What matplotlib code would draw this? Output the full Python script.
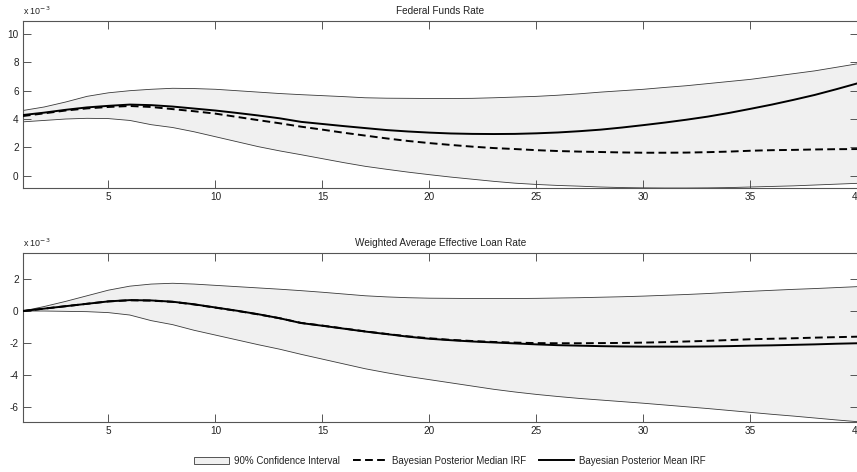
import numpy as np
import matplotlib
matplotlib.use("Agg")
import matplotlib.pyplot as plt
from matplotlib.patches import Patch
from matplotlib.lines import Line2D

# horizon 1..40, values in units of 1e-3
h = np.arange(1, 41)

ffr_upper = [4.6, 4.85, 5.2, 5.6, 5.85, 6.0, 6.1, 6.17, 6.15, 6.1,
             6.0, 5.9, 5.8, 5.72, 5.65, 5.58, 5.5, 5.47, 5.46, 5.45,
             5.45, 5.46, 5.5, 5.55, 5.6, 5.68, 5.78, 5.9, 6.0, 6.1,
             6.23, 6.35, 6.5, 6.65, 6.8, 7.0, 7.2, 7.4, 7.65, 7.9]
ffr_lower = [3.8, 3.9, 4.0, 4.05, 4.03, 3.9, 3.6, 3.4, 3.1, 2.75,
             2.4, 2.05, 1.75, 1.48, 1.2, 0.92, 0.66, 0.45, 0.25, 0.07,
             -0.1, -0.25, -0.4, -0.53, -0.62, -0.69, -0.74, -0.8, -0.84, -0.86,
             -0.87, -0.87, -0.86, -0.84, -0.8, -0.76, -0.72, -0.66, -0.6, -0.54]
ffr_median = [4.21, 4.4, 4.6, 4.75, 4.85, 4.92, 4.85, 4.7, 4.55, 4.38,
              4.15, 3.92, 3.7, 3.46, 3.25, 3.03, 2.83, 2.63, 2.45, 2.3,
              2.17, 2.05, 1.95, 1.88, 1.8, 1.74, 1.7, 1.67, 1.64, 1.62,
              1.62, 1.63, 1.66, 1.7, 1.76, 1.8, 1.82, 1.85, 1.87, 1.88]
ffr_mean = [4.28, 4.45, 4.65, 4.82, 4.93, 5.02, 4.98, 4.88, 4.74, 4.6,
            4.43, 4.25, 4.05, 3.8, 3.65, 3.5, 3.36, 3.22, 3.12, 3.04,
            2.98, 2.95, 2.94, 2.95, 2.99, 3.05, 3.14, 3.25, 3.4, 3.57,
            3.75, 3.95, 4.17, 4.43, 4.72, 5.02, 5.35, 5.7, 6.1, 6.52]

loan_upper = [0.0, 0.28, 0.6, 0.95, 1.3, 1.55, 1.68, 1.73, 1.68, 1.6,
              1.52, 1.44, 1.36, 1.27, 1.17, 1.06, 0.95, 0.88, 0.83, 0.8,
              0.79, 0.78, 0.78, 0.78, 0.79, 0.81, 0.83, 0.86, 0.89, 0.93,
              0.98, 1.03, 1.09, 1.16, 1.23, 1.29, 1.35, 1.4, 1.46, 1.52]
loan_lower = [0.0, 0.0, -0.02, -0.04, -0.1, -0.25, -0.6, -0.85, -1.2, -1.5,
              -1.8, -2.1, -2.38, -2.7, -3.0, -3.3, -3.6, -3.85, -4.08, -4.28,
              -4.48, -4.68, -4.88, -5.05, -5.2, -5.33, -5.45, -5.55, -5.65, -5.75,
              -5.86, -5.97, -6.08, -6.2, -6.32, -6.44, -6.55, -6.67, -6.79, -6.9]
loan_median = [0.0, 0.15, 0.3, 0.45, 0.6, 0.67, 0.65, 0.57, 0.41, 0.21,
               0.01, -0.21, -0.45, -0.74, -0.91, -1.09, -1.27, -1.43, -1.58, -1.7,
               -1.8, -1.87, -1.93, -1.97, -2.0, -2.01, -2.01, -2.0, -1.99, -1.97,
               -1.94, -1.9, -1.86, -1.81, -1.76, -1.73, -1.7, -1.66, -1.63, -1.6]
loan_mean = [0.0, 0.15, 0.3, 0.45, 0.6, 0.68, 0.66, 0.58, 0.42, 0.22,
             0.02, -0.2, -0.45, -0.75, -0.92, -1.1, -1.28, -1.44, -1.6, -1.73,
             -1.82, -1.9, -1.96, -2.02, -2.08, -2.13, -2.16, -2.19, -2.21, -2.22,
             -2.22, -2.22, -2.21, -2.19, -2.16, -2.14, -2.11, -2.08, -2.04, -2.01]

titles = ["Federal Funds Rate", "Weighted Average Effective Loan Rate"]
legend_labels = ["90% Confidence Interval", "Bayesian Posterior Median IRF",
                 "Bayesian Posterior Mean IRF"]

plt.rcParams['font.family'] = ['Liberation Sans', 'DejaVu Sans']
fs = 7.2
fill_c = '#f0f0f0'
spine_c = '#555555'

fig = plt.figure(figsize=(8.57, 4.72), dpi=100)
ax1 = fig.add_axes([0.0266, 0.6023, 0.9740, 0.3532])
ax2 = fig.add_axes([0.0266, 0.1066, 0.9740, 0.3568])

panels = [
    (ax1, ffr_upper, ffr_lower, ffr_median, ffr_mean, (-0.85, 10.92), [0, 2, 4, 6, 8, 10]),
    (ax2, loan_upper, loan_lower, loan_median, loan_mean, (-6.9, 3.6), [-6, -4, -2, 0, 2]),
]

for i, (ax, up, lo, med, mn, yl, yt) in enumerate(panels):
    up = np.array(up) * 1e-3
    lo = np.array(lo) * 1e-3
    ax.fill_between(h, lo, up, facecolor=fill_c, edgecolor='none', zorder=1)
    ax.plot(h, up, color='#3a3a3a', lw=0.6, zorder=2)
    ax.plot(h, lo, color='#3a3a3a', lw=0.6, zorder=2)
    ax.plot(h, np.array(med) * 1e-3, color='black', lw=1.4, ls=(0, (4, 2.2)), zorder=3)
    ax.plot(h, np.array(mn) * 1e-3, color='black', lw=1.4, zorder=4)
    ax.set_xlim(1, 40)
    ax.set_ylim(yl[0] * 1e-3, yl[1] * 1e-3)
    ax.set_xticks([5, 10, 15, 20, 25, 30, 35, 40])
    ax.set_yticks(np.array(yt) * 1e-3)
    ax.set_yticklabels([str(v) for v in yt])
    ax.tick_params(direction='in', length=5.5, width=0.7, color=spine_c,
                   labelsize=fs, labelcolor='#222222', top=True, right=True, pad=3)
    for s in ax.spines.values():
        s.set_color(spine_c)
        s.set_linewidth(0.8)
    ax.set_title(titles[i], fontsize=fs, pad=5, color='#222222')
    ax.text(0.0, 1.025, r'x 10$^{-3}$', transform=ax.transAxes, fontsize=fs - 0.8,
            ha='left', va='bottom', color='#222222')

handles = [Patch(facecolor=fill_c, edgecolor='#3a3a3a', linewidth=0.6),
           Line2D([], [], color='black', lw=1.4, ls=(0, (4, 2.2))),
           Line2D([], [], color='black', lw=1.4)]
fig.legend(handles, legend_labels, loc='lower center', bbox_to_anchor=(0.525, -0.005),
           ncol=3, frameon=False, fontsize=fs - 0.2, handlelength=3.6, columnspacing=1.3,
           handletextpad=0.5, labelcolor='#222222')

fig.savefig('out.png', dpi=100)
